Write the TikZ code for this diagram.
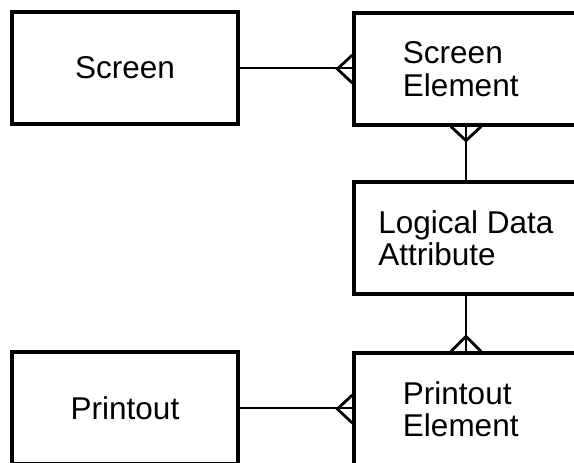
\documentclass[tikz,border=0pt]{standalone}
\usepackage{fontspec}
\setmainfont{Liberation Sans}
\usetikzlibrary{calc}

\begin{document}
\begin{tikzpicture}[
  x=0.025cm, y=-0.025cm,
  font=\fontsize{22.4}{23}\selectfont,
  ent/.style={draw, line width=2.3pt, minimum height=2.8cm, inner sep=2pt},
  lbox/.style={ent, minimum width=5.65cm},
  rbox/.style={ent, minimum width=5.6cm, align=left},
  rel/.style={line width=2pt},
]
\useasboundingbox (0,0) rectangle (574,462);
\clip (0,0) rectangle (574,462);

% ---------------- entities ----------------
\node[lbox] (scr) at (125,68) {Screen};
\node[rbox, text width=3.15cm] (selem) at (466,69) {Screen\\Element};
\node[rbox] (lda) at (466,238) {Logical Data\\Attribute};
\node[lbox] (prt) at (125,408) {Printout};
\node[rbox, text width=3.15cm] (pelem) at (466,409) {Printout\\Element};

% crow's foot: anchor, apex offset, half spread
\newcommand{\crowfoot}[3]{%
  \draw[rel] ($(#1)+(#3)$) -- ($(#1)+(#2)$) -- ($(#1)-(#3)$);}

% ---------------- relationships ----------------
\draw[rel] (scr) -- (scr -| selem.west);
\crowfoot{selem.west}{-15,0}{0,14}

\draw[rel] (selem) -- (lda);
\crowfoot{selem.south}{0,14}{15,0}

\draw[rel] (lda) -- (pelem);
\crowfoot{pelem.north}{0,-15}{15,0}

\draw[rel, line width=1.6pt] (prt) -- (prt -| pelem.west);
\crowfoot{pelem.west}{-15,0}{0,14}

\end{tikzpicture}
\end{document}
